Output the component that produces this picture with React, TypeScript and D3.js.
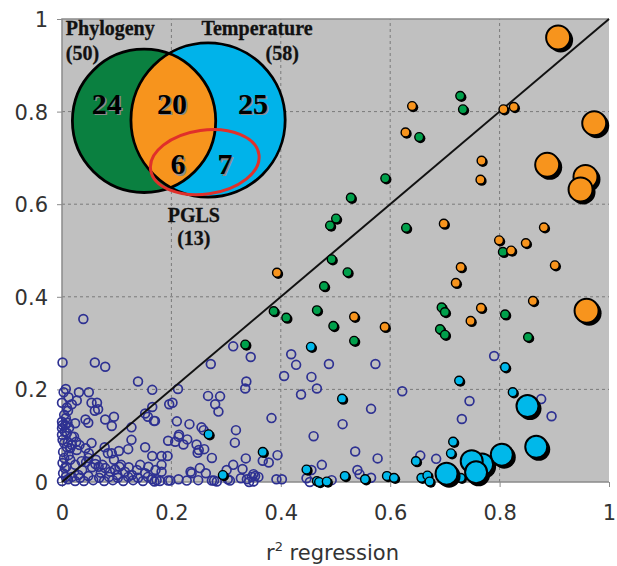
import React, { useEffect, useRef } from 'react';
import * as d3 from 'd3';

// open circles: not significant in either test
const openPts = [
  [0.039, 0.352], [0.001, 0.258], [0.060, 0.258], [0.079, 0.249], [0.313, 0.293], [0.345, 0.270],
  [0.272, 0.255], [0.419, 0.276], [0.428, 0.253], [0.488, 0.255], [0.573, 0.255], [0.790, 0.272],
  [0.139, 0.217], [0.337, 0.217], [0.335, 0.202], [0.406, 0.229], [0.456, 0.227], [0.466, 0.202],
  [0.437, 0.189], [0.165, 0.199], [0.212, 0.201], [0.622, 0.196], [0.745, 0.175], [0.876, 0.179],
  [0.565, 0.158], [0.895, 0.142], [0.513, 0.125], [0.731, 0.136], [0.536, 0.066], [0.577, 0.051],
  [0.655, 0.057], [0.684, 0.050], [0.540, 0.026], [0.544, 0.017], [0.565, 0.009], [0.493, 0.004],
  [0.267, 0.186], [0.289, 0.185], [0.280, 0.168], [0.286, 0.152], [0.196, 0.168], [0.202, 0.171],
  [0.165, 0.162], [0.460, 0.099], [0.383, 0.138], [0.170, 0.132], [0.210, 0.131], [0.233, 0.125],
  [0.255, 0.118], [0.259, 0.112], [0.318, 0.112], [0.316, 0.085], [0.214, 0.102], [0.207, 0.087],
  [0.194, 0.089], [0.229, 0.092], [0.222, 0.081], [0.246, 0.081], [0.260, 0.071], [0.250, 0.069],
  [0.274, 0.052], [0.336, 0.051], [0.394, 0.058], [0.367, 0.046], [0.378, 0.042], [0.313, 0.037],
  [0.301, 0.026], [0.182, 0.056], [0.193, 0.056], [0.182, 0.037], [0.182, 0.022], [0.252, 0.030],
  [0.263, 0.019], [0.235, 0.022], [0.303, 0.006], [0.327, 0.008], [0.338, 0.006], [0.347, 0.011],
  [0.350, 0.001], [0.359, 0.011], [0.213, 0.006], [0.228, 0.003], [0.194, 0.003], [0.173, 0.004],
  [0.249, 0.004], [0.274, 0.003], [0.278, 0.003], [0.283, 0.001], [0.392, 0.006], [0.402, 0.006],
  [0.447, 0.008], [0.453, 0.000], [0.456, 0.026], [0.475, 0.037], [0.353, 0.013],
  [0.007, 0.201], [0.003, 0.194], [0.031, 0.194], [0.049, 0.194], [0.012, 0.183], [0.000, 0.171],
  [0.018, 0.168], [0.027, 0.176], [0.054, 0.171], [0.064, 0.171], [0.060, 0.154], [0.066, 0.157],
  [0.011, 0.154], [0.079, 0.135], [0.095, 0.141], [0.091, 0.121], [0.043, 0.135], [0.048, 0.128],
  [0.024, 0.127], [0.000, 0.130], [0.001, 0.123], [0.006, 0.123], [0.000, 0.116], [0.005, 0.109],
  [0.000, 0.102], [0.152, 0.148], [0.157, 0.141], [0.127, 0.118], [0.127, 0.091], [0.018, 0.098],
  [0.026, 0.087], [0.018, 0.080], [0.009, 0.075], [0.027, 0.069], [0.043, 0.073], [0.049, 0.062],
  [0.054, 0.084], [0.078, 0.075], [0.091, 0.062], [0.104, 0.067], [0.121, 0.071], [0.152, 0.075],
  [0.165, 0.056], [0.095, 0.048], [0.108, 0.037], [0.122, 0.032], [0.143, 0.037], [0.158, 0.033],
  [0.171, 0.026], [0.079, 0.030], [0.061, 0.039], [0.067, 0.033], [0.055, 0.032], [0.009, 0.161],
  [0.168, 0.132], [0.084, 0.062], [0.213, 0.098], [0.248, 0.063], [0.137, 0.026], [0.105, 0.033],
  [0.074, 0.037], [0.062, 0.048], [0.048, 0.052], [0.032, 0.080], [0.015, 0.073], [0.011, 0.086],
  [0.022, 0.098], [0.237, 0.019], [0.330, 0.028], [0.350, 0.017], [0.342, 0.000], [0.307, 0.003],
  [0.169, 0.001], [0.179, 0.002], [0.198, 0.003],
  [0.001, 0.091], [0.002, 0.065], [0.004, 0.052], [0.001, 0.041], [0.005, 0.030], [0.002, 0.019],
  [0.007, 0.011], [0.000, 0.002], [0.011, 0.006], [0.018, 0.011], [0.024, 0.002], [0.033, 0.009],
  [0.040, 0.002], [0.048, 0.013], [0.057, 0.004], [0.068, 0.009], [0.077, 0.002], [0.086, 0.011],
  [0.093, 0.004], [0.102, 0.009], [0.112, 0.002], [0.121, 0.011], [0.130, 0.004], [0.139, 0.009],
  [0.148, 0.002], [0.157, 0.011], [0.165, 0.006], [0.015, 0.048], [0.024, 0.037], [0.037, 0.026],
  [0.044, 0.043], [0.088, 0.022], [0.101, 0.015], [0.115, 0.022], [0.128, 0.015], [0.152, 0.019],
  [0.007, 0.138], [0.013, 0.117], [0.009, 0.106], [0.004, 0.145], [0.010, 0.128], [0.004, 0.084],
  [0.012, 0.058], [0.008, 0.033], [0.030, 0.015], [0.036, 0.045], [0.071, 0.020], [0.097, 0.027]
];

// significant with phylogeny only
const greenPts = [
  [0.728, 0.834], [0.733, 0.805], [0.653, 0.745], [0.591, 0.656], [0.528, 0.614], [0.501, 0.569],
  [0.490, 0.554], [0.629, 0.549], [0.493, 0.481], [0.522, 0.453], [0.806, 0.497], [0.694, 0.377],
  [0.700, 0.367], [0.810, 0.362], [0.496, 0.337], [0.691, 0.330], [0.700, 0.318], [0.479, 0.423],
  [0.466, 0.371], [0.387, 0.369], [0.410, 0.355], [0.534, 0.305], [0.852, 0.313], [0.335, 0.297]
];

// significant with both
const orangePts = [
  [0.640, 0.812], [0.807, 0.805], [0.826, 0.810], [0.628, 0.755], [0.767, 0.694], [0.765, 0.653],
  [0.698, 0.558], [0.881, 0.550], [0.799, 0.522], [0.821, 0.500], [0.848, 0.516], [0.729, 0.464],
  [0.901, 0.468], [0.720, 0.430], [0.861, 0.391], [0.766, 0.376], [0.747, 0.348], [0.534, 0.357],
  [0.590, 0.335], [0.393, 0.452]
];
const orangeBig = [
  [0.907, 0.960], [0.973, 0.775], [0.887, 0.685], [0.957, 0.659], [0.948, 0.632], [0.959, 0.370]
];

// significant with temperature only
const cyanPts = [
  [0.455, 0.292], [0.810, 0.248], [0.726, 0.219], [0.824, 0.194], [0.512, 0.180], [0.715, 0.087],
  [0.711, 0.062], [0.647, 0.045], [0.517, 0.013], [0.554, 0.006], [0.594, 0.013], [0.607, 0.009],
  [0.657, 0.009], [0.668, 0.014], [0.672, 0.001], [0.729, 0.009], [0.268, 0.103], [0.367, 0.065],
  [0.294, 0.015], [0.447, 0.027], [0.466, 0.002], [0.470, 0.000], [0.484, 0.001]
];
const cyanBig = [
  [0.851, 0.164], [0.867, 0.076], [0.804, 0.059], [0.768, 0.038], [0.749, 0.045], [0.757, 0.021],
  [0.703, 0.018]
];

const ticks = [0, 0.2, 0.4, 0.6, 0.8, 1];

const vennLabels = [
  { t: 'Phylogeny', x: 0.007, y: 0.965, a: 'start' },
  { t: '(50)', x: 0.007, y: 0.911, a: 'start' },
  { t: 'Temperature', x: 0.255, y: 0.965, a: 'start' },
  { t: '(58)', x: 0.433, y: 0.911, a: 'end' },
  { t: 'PGLS', x: 0.241, y: 0.562, a: 'middle' },
  { t: '(13)', x: 0.241, y: 0.512, a: 'middle' }
];
const vennCounts = [
  { t: '24', x: 0.082, y: 0.795 },
  { t: '20', x: 0.201, y: 0.795 },
  { t: '25', x: 0.349, y: 0.795 },
  { t: '6', x: 0.212, y: 0.665 },
  { t: '7', x: 0.298, y: 0.665 }
];

const W = 617;
const H = 566;
const margin = { top: 19, right: 8, bottom: 84, left: 62 };

export default function App() {
  const svgRef = useRef(null);

  useEffect(() => {
    const svg = d3.select(svgRef.current);
    svg.selectAll('*').remove();

    const x = d3.scaleLinear().domain([0, 1]).range([margin.left, W - margin.right]);
    const y = d3.scaleLinear().domain([0, 1]).range([H - margin.bottom, margin.top]);
    const px = (v) => x(v) - x(0);

    // plot background
    svg.append('rect')
      .attr('x', x(0)).attr('y', y(1))
      .attr('width', x(1) - x(0)).attr('height', y(0) - y(1))
      .attr('fill', '#c0c0c0');

    // dashed grid
    const inner = ticks.slice(1, -1);
    svg.append('g').selectAll('line.v').data(inner).enter().append('line')
      .attr('x1', d => x(d)).attr('x2', d => x(d))
      .attr('y1', y(0)).attr('y2', y(1))
      .attr('stroke', '#7a7a7a').attr('stroke-dasharray', '3,3');
    svg.append('g').selectAll('line.h').data(inner).enter().append('line')
      .attr('y1', d => y(d)).attr('y2', d => y(d))
      .attr('x1', x(0)).attr('x2', x(1))
      .attr('stroke', '#7a7a7a').attr('stroke-dasharray', '3,3');

    // frame
    svg.append('path')
      .attr('d', `M${x(1)},${y(1)}H${x(0)}V${y(0)}H${x(1)}`)
      .attr('fill', 'none').attr('stroke', '#8a8a8a').attr('stroke-width', 1.5);

    // axes
    const fmt = d => (d === 0 || d === 1 ? d3.format('d')(d) : d3.format('.1f')(d));
    const xAxis = svg.append('g')
      .attr('transform', `translate(0,${y(0)})`)
      .call(d3.axisBottom(x).tickValues(ticks).tickFormat(fmt).tickSize(5).tickPadding(18));
    const yAxis = svg.append('g')
      .attr('transform', `translate(${x(0)},0)`)
      .call(d3.axisLeft(y).tickValues(ticks).tickFormat(fmt).tickSize(5).tickPadding(9));
    [xAxis, yAxis].forEach(g => {
      g.select('.domain').remove();
      g.selectAll('line').attr('stroke', '#8a8a8a');
      g.selectAll('text')
        .attr('fill', '#333')
        .style('font-family', 'DejaVu Sans, Verdana, sans-serif')
        .style('font-size', '21px');
    });
    yAxis.selectAll('text').attr('dy', '0.36em');

    const title = svg.append('text')
      .attr('x', (x(0) + x(1)) / 2 - 3).attr('y', 560)
      .attr('text-anchor', 'middle').attr('fill', '#333')
      .style('font-family', 'DejaVu Sans, Verdana, sans-serif')
      .style('font-size', '21px');
    title.append('tspan').text('r');
    title.append('tspan').attr('dy', -9).style('font-size', '13px').text('2');
    title.append('tspan').attr('dy', 9).text(' regression');

    // open circles
    svg.append('g').selectAll('circle').data(openPts).enter().append('circle')
      .attr('cx', d => x(d[0])).attr('cy', d => y(d[1])).attr('r', 4.4)
      .attr('fill', 'none').attr('stroke', '#2e3192').attr('stroke-width', 1.7);

    // 1:1 line
    svg.append('line')
      .attr('x1', x(0)).attr('y1', y(0)).attr('x2', x(1)).attr('y2', y(1))
      .attr('stroke', '#111').attr('stroke-width', 2);

    const filled = (data, color, r, off) => {
      const g = svg.append('g');
      g.selectAll('circle.s').data(data).enter().append('circle')
        .attr('cx', d => x(d[0]) + off).attr('cy', d => y(d[1]) + off).attr('r', r + 0.5)
        .attr('fill', '#000');
      g.selectAll('circle.f').data(data).enter().append('circle')
        .attr('cx', d => x(d[0])).attr('cy', d => y(d[1])).attr('r', r)
        .attr('fill', color).attr('stroke', '#000').attr('stroke-width', r > 8 ? 2 : 1.4);
    };
    filled(greenPts, '#00a04b', 4.4, 1.3);
    filled(orangePts, '#f7941d', 4.4, 1.3);
    filled(cyanPts, '#00b8ea', 4.4, 1.3);
    filled(cyanBig, '#00b8ea', 11, 2.5);
    filled(orangeBig, '#f7941d', 12, 2.5);

    // Venn inset
    const venn = svg.append('g');
    const gC = { cx: x(0.150), cy: y(0.780), r: px(0.131) };
    const bC = { cx: x(0.267), cy: y(0.782), r: px(0.141) };
    const defs = svg.append('defs');
    defs.append('clipPath').attr('id', 'clipGreen')
      .append('circle').attr('cx', gC.cx).attr('cy', gC.cy).attr('r', gC.r);
    venn.append('circle').attr('cx', gC.cx).attr('cy', gC.cy).attr('r', gC.r).attr('fill', '#0a8040');
    venn.append('circle').attr('cx', bC.cx).attr('cy', bC.cy).attr('r', bC.r).attr('fill', '#00b3ea');
    venn.append('circle').attr('cx', bC.cx).attr('cy', bC.cy).attr('r', bC.r)
      .attr('fill', '#f7941d').attr('clip-path', 'url(#clipGreen)');
    [gC, bC].forEach(c => {
      venn.append('circle').attr('cx', c.cx).attr('cy', c.cy).attr('r', c.r)
        .attr('fill', 'none').attr('stroke', '#000').attr('stroke-width', 2.8);
    });
    venn.append('ellipse')
      .attr('cx', 0).attr('cy', 0).attr('rx', px(0.1)).attr('ry', y(0) - y(0.069))
      .attr('transform', `translate(${x(0.261)},${y(0.691)}) rotate(-8)`)
      .attr('fill', 'none').attr('stroke', '#e0302a').attr('stroke-width', 3);

    const serif = 'Liberation Serif, Times New Roman, serif';
    vennLabels.forEach(l => {
      venn.append('text').attr('x', x(l.x)).attr('y', y(l.y))
        .attr('text-anchor', l.a).style('font-family', serif).style('font-weight', 'bold')
        .style('font-size', '20px').attr('fill', '#111')
        .attr('stroke', '#111').attr('stroke-width', 0.3).text(l.t);
    });
    vennCounts.forEach(l => {
      venn.append('text').attr('x', x(l.x) + 1.5).attr('y', y(l.y) + 1.5)
        .attr('text-anchor', 'middle').style('font-family', serif).style('font-weight', 'bold')
        .style('font-size', '30px').attr('fill', '#8a8a8a').text(l.t);
      venn.append('text').attr('x', x(l.x)).attr('y', y(l.y))
        .attr('text-anchor', 'middle').style('font-family', serif).style('font-weight', 'bold')
        .style('font-size', '30px').attr('fill', '#000').text(l.t);
    });
  }, []);

  return (
    <svg ref={svgRef} width={W} height={H}
      style={{ position: 'absolute', left: 0, top: 0, background: '#fff' }} />
  );
}
